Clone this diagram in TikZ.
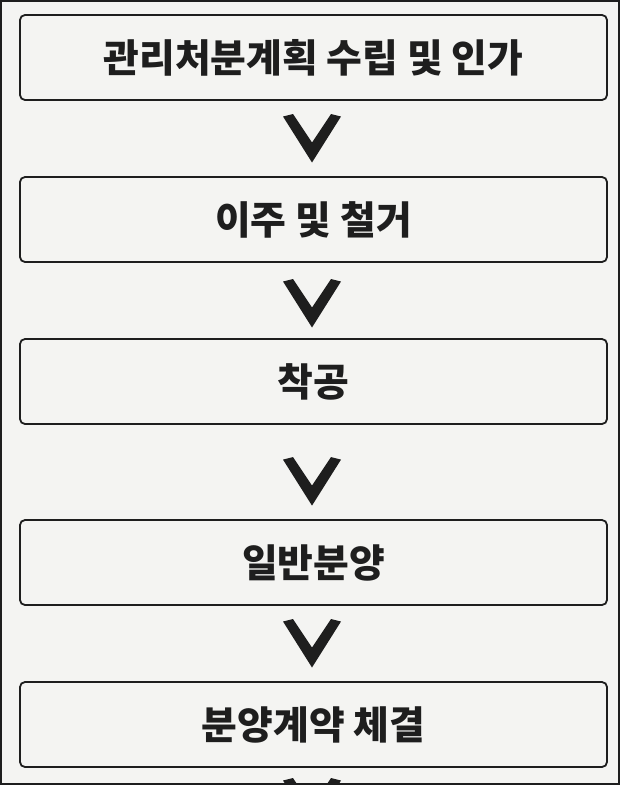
\documentclass[tikz,border=0pt]{standalone}
\usepackage{fontspec}
\newfontfamily\krfont{Noto Sans CJK KR}
\usetikzlibrary{positioning,calc}

\definecolor{paper}{RGB}{244,244,242}
\definecolor{ink}{RGB}{30,30,30}

\begin{document}
\begin{tikzpicture}[%
		x=1bp,
		y=1bp,
		node distance=77bp,
		stage/.style={%
			minimum width=587bp,
			minimum height=85bp,
			outer sep=0pt,
			rounded corners=5bp,
			line width=1.8bp,
			draw=ink,
			text=ink,
			font=\krfont\bfseries\fontsize{39}{42}\selectfont
		},
		chev/.style={%
			fill=ink
		}
		]
		\clip (0,0) rectangle (620,-785);
		\fill[paper] (0,0) rectangle (620,-785);
		\draw[ink,line width=2bp] (1,-1) rectangle (619,-784);
		
		\node[stage] (1) at (313.5,-57.5)                             {관리처분계획 수립 및 인가};
		\node[stage] (2) [below=of 1]                                 {이주 및 철거};
		\node[stage] (3) [below=of 2]                                 {착공};
		\node[stage] (4) [below=96bp of 3]                            {일반분양};
		\node[stage] (5) [below=of 4]                                 {분양계약 체결};
		
		% chevrons between the stages
		\coordinate (c1) at ($(1.south)!0.5!(2.north)+(-1.5,0)$);
		\coordinate (c2) at ($(2.south)!0.5!(3.north)+(-1.5,-3)$);
		\coordinate (c3) at ($(3.south)!0.6!(4.north)+(-1.5,0)$);
		\coordinate (c4) at ($(4.south)!0.5!(5.north)+(-1.5,0)$);
		\coordinate (c5) at ($(5.south)+(-1.5,-35.5)$);
		\foreach \c in {c1,c2,c3,c4,c5}
			\fill[chev,shift={(\c)}] (-29,22) -- (-19,24.5) -- (0,-4) -- (19,24.5)
				-- (29,22) -- (0,-24) -- cycle;
\end{tikzpicture}
\end{document}
